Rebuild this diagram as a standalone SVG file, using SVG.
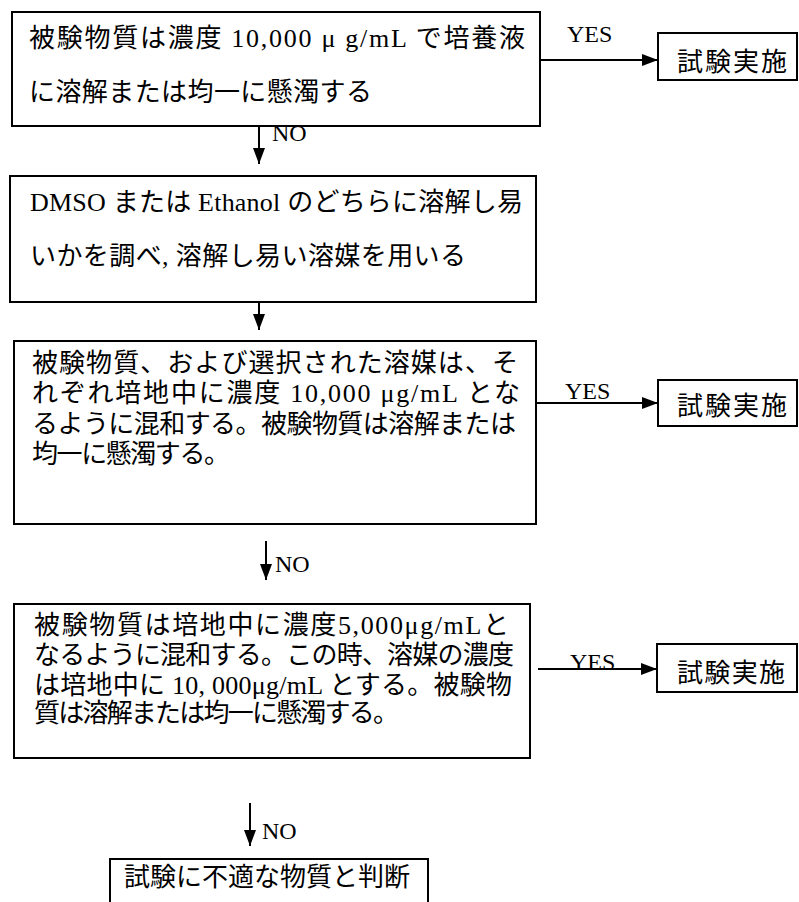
<svg xmlns="http://www.w3.org/2000/svg" width="799" height="902" viewBox="0 0 799 902">
<style>
.box{fill:#fff;stroke:#000;stroke-width:2}
.t{font-family:"Liberation Serif","Noto Sans CJK JP",serif;font-size:26px;fill:#000}
.lbl{font-family:"Liberation Serif","Noto Sans CJK JP",serif;font-size:24px;fill:#000}
.c{stroke:#000;stroke-width:2;fill:none}
</style>
<defs>
<marker id="ah" markerUnits="userSpaceOnUse" markerWidth="16" markerHeight="14" refX="16" refY="7" orient="auto">
<path d="M0,1 L16,7 L0,13 z" fill="#000"/>
</marker>
</defs>
<rect width="799" height="902" fill="#fff"/>
<g id="connectors">
<line class="c" x1="540" y1="60" x2="658" y2="60" marker-end="url(#ah)"/>
<text class="lbl" x="567" y="42">YES</text>
<line class="c" x1="259" y1="126" x2="259" y2="164" marker-end="url(#ah)"/>
<text class="lbl" x="272" y="141">NO</text>
<line class="c" x1="259" y1="302" x2="259" y2="330" marker-end="url(#ah)"/>
<line class="c" x1="537" y1="403" x2="658" y2="403" marker-end="url(#ah)"/>
<text class="lbl" x="565" y="399">YES</text>
<line class="c" x1="266" y1="541" x2="266" y2="580" marker-end="url(#ah)"/>
<text class="lbl" x="275" y="572">NO</text>
<line class="c" x1="538" y1="669" x2="657" y2="669" marker-end="url(#ah)"/>
<text class="lbl" x="570" y="670">YES</text>
<line class="c" x1="250" y1="803" x2="250" y2="846" marker-end="url(#ah)"/>
<text class="lbl" x="262" y="839">NO</text>
</g>
<g id="n1">
<rect class="box" x="12" y="12" width="528" height="114"/>
<text class="t" x="29" y="47" textLength="496" lengthAdjust="spacing">被験物質は濃度 10,000 μ g/mL で培養液</text>
<text class="t" x="29" y="101" textLength="343" lengthAdjust="spacing">に溶解または均一に懸濁する</text>
</g>
<g id="r1">
<rect class="box" x="658" y="33" width="139" height="47"/>
<text class="t" x="677" y="71" textLength="110" lengthAdjust="spacing">試験実施</text>
</g>
<g id="n2">
<rect class="box" x="10" y="176" width="526" height="126"/>
<text class="t" x="30" y="211" textLength="493" lengthAdjust="spacing">DMSO または Ethanol のどちらに溶解し易</text>
<text class="t" x="30" y="265" textLength="436" lengthAdjust="spacing">いかを調べ, 溶解し易い溶媒を用いる</text>
</g>
<g id="n3">
<rect class="box" x="14" y="341" width="522" height="183"/>
<text class="t" x="32" y="372" textLength="486" lengthAdjust="spacing">被験物質、および選択された溶媒は、そ</text>
<text class="t" x="32" y="402" textLength="488" lengthAdjust="spacing">れぞれ培地中に濃度 10,000 μg/mL とな</text>
<text class="t" x="32" y="433" textLength="484" lengthAdjust="spacing">るように混和する。被験物質は溶解または</text>
<text class="t" x="32" y="463" textLength="198" lengthAdjust="spacing">均一に懸濁する。</text>
</g>
<g id="r2">
<rect class="box" x="658" y="380" width="139" height="46"/>
<text class="t" x="677" y="415" textLength="110" lengthAdjust="spacing">試験実施</text>
</g>
<g id="n4">
<rect class="box" x="14" y="604" width="516" height="154"/>
<text class="t" x="34" y="634" textLength="475" lengthAdjust="spacing">被験物質は培地中に濃度5,000μg/mLと</text>
<text class="t" x="34" y="664" textLength="480" lengthAdjust="spacing">なるように混和する。この時、溶媒の濃度</text>
<text class="t" x="34" y="694" textLength="478" lengthAdjust="spacing">は培地中に 10, 000μg/mL とする。被験物</text>
<text class="t" x="34" y="722" textLength="365" lengthAdjust="spacing">質は溶解または均一に懸濁する。</text>
</g>
<g id="r3">
<rect class="box" x="657" y="644" width="140" height="48"/>
<text class="t" x="677" y="682" textLength="108" lengthAdjust="spacing">試験実施</text>
</g>
<g id="n5">
<rect class="box" x="110" y="859" width="318" height="60"/>
<text class="t" x="124" y="886" textLength="286" lengthAdjust="spacing">試験に不適な物質と判断</text>
</g>
</svg>
